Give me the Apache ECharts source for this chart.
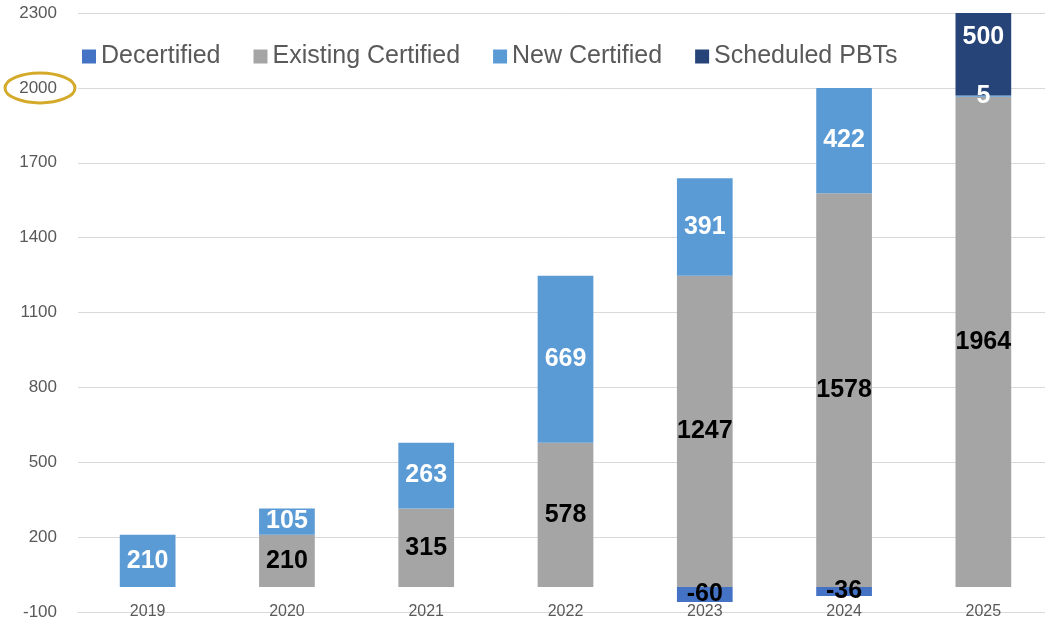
<!DOCTYPE html>
<html>
<head>
<meta charset="UTF-8">
<title>Certified PBTs</title>
<script src="https://cdn.jsdelivr.net/npm/echarts@6/dist/echarts.min.js"></script>
<style>
  html, body { margin: 0; padding: 0; background: #fff; overflow: hidden; }
  #main { width: 1060px; height: 624px; }
</style>
</head>
<body>
<div id="main"></div>
<script type="text/javascript">
    // 数据
    var years = ['2019', '2020', '2021', '2022', '2023', '2024', '2025'];
    var decertified = [null, null, null, null, -60, -36, null];
    var existing = [null, 210, 315, 578, 1247, 1578, 1964];
    var newCertified = [210, 105, 263, 669, 391, 422, 5];
    var scheduled = [null, null, null, null, null, null, 500];
    var circledTick = 2000;

    // 图表比原图略宽，右侧被裁掉
    var chart = echarts.init(document.getElementById('main'));
    var font = "'Liberation Sans', 'DejaVu Sans', sans-serif";

    function barSeries(name, data, color, labelColor) {
        return {
            name: name,
            type: 'bar',
            stack: 'total',
            barWidth: '40%',
            xAxisIndex: 0,
            data: data,
            itemStyle: { color: color },
            label: {
                show: true,
                position: 'inside',
                color: labelColor,
                fontFamily: font,
                fontWeight: 'bold',
                fontSize: 25
            }
        };
    }

    var sched = barSeries('Scheduled PBTs', scheduled, '#264478', '#fff');
    // 柱子超出上限被截断，标签仍按整根柱子居中
    sched.label.offset = [0, -17];

    var option = {
        animation: false,
        backgroundColor: '#fff',
        textStyle: { fontFamily: font },
        grid: { left: 78, top: 13, bottom: 12, width: 975, containLabel: false },
        legend: {
            left: 77,
            top: 39,
            itemWidth: 14,
            itemHeight: 14,
            itemGap: 33,
            icon: 'rect',
            textStyle: { color: '#595959', fontSize: 25, fontFamily: font },
            data: ['Decertified', 'Existing Certified', 'New Certified', 'Scheduled PBTs']
        },
        xAxis: [{
            type: 'category',
            data: years,
            position: 'bottom',
            axisLine: { show: false },
            axisTick: { show: false },
            axisLabel: { color: '#595959', fontSize: 16, margin: -8 }
        }, {
            // 零线
            type: 'category',
            data: years,
            position: 'bottom',
            axisLine: { show: true, onZero: true, lineStyle: { color: '#D9D9D9', width: 1 } },
            axisTick: { show: false },
            axisLabel: { show: false }
        }],
        yAxis: {
            type: 'value',
            min: -100,
            max: 2300,
            interval: 300,
            axisLine: { show: false },
            axisTick: { show: false },
            axisLabel: {
                color: '#595959',
                fontSize: 17,
                margin: 21,
                formatter: function (v) { return String(v); }
            },
            splitLine: { lineStyle: { color: '#D9D9D9', width: 1 } }
        },
        series: [
            barSeries('Decertified', decertified, '#4472C4', '#000'),
            barSeries('Existing Certified', existing, '#A5A5A5', '#000'),
            barSeries('New Certified', newCertified, '#5B9BD5', '#fff'),
            sched
        ]
    };
    chart.setOption(option);

    // 标注圈
    var cy = chart.convertToPixel({ yAxisIndex: 0 }, circledTick);
    chart.setOption({
        graphic: [{
            type: 'ellipse',
            shape: { cx: 40, cy: cy, rx: 35, ry: 15 },
            style: { fill: 'none', stroke: '#D4AA2A', lineWidth: 3 },
            z: 100
        }]
    });
</script>
</body>
</html>
